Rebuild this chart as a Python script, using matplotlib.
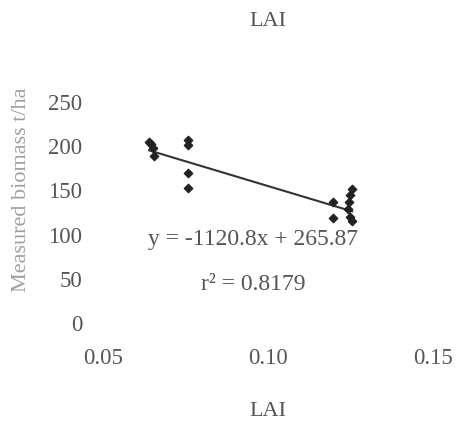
import matplotlib
matplotlib.use("Agg")
import matplotlib.pyplot as plt
import numpy as np

# Data
lai = [0.064, 0.0645, 0.065, 0.0655,
       0.0758, 0.0758, 0.0758, 0.0758,
       0.1197, 0.1197,
       0.1255, 0.125, 0.1245, 0.1243, 0.125, 0.1255]
biomass = [204, 201, 197, 188,
           206, 200, 169, 152,
           136, 118,
           150, 144, 136, 128, 119, 114]
slope = -1120.8
intercept = 265.87
r2 = 0.8179
x_ticks = [0.05, 0.10, 0.15]
x_ticklabels = ["0.05", "0.10", "0.15"]
y_ticks = [0, 50, 100, 150, 200, 250]

plt.rcParams['font.family'] = ['Liberation Serif', 'DejaVu Serif']
txt = '#555555'

fig = plt.figure(figsize=(4.6, 4.31), dpi=100)
ax = fig.add_axes([103/460, 1-323/431, 330/460, 221/431])

ax.scatter(lai, biomass, marker='D', s=18, color='#222222', zorder=3)
xl = np.array([min(lai), max(lai)])
ax.plot(xl, slope*xl + intercept, color='#333333', lw=1.5)

ax.set_xlim(0.05, 0.15)
ax.set_ylim(0, 250)
ax.set_xticks(x_ticks)
ax.set_xticklabels(x_ticklabels)
ax.set_yticks(y_ticks)
for s in ax.spines.values():
    s.set_visible(False)
ax.tick_params(axis='both', length=0, labelsize=16.5, labelcolor=txt)
ax.tick_params(axis='y', pad=15)
ax.tick_params(axis='x', pad=18)

ax.text(0.0955, 95, "y = -1120.8x + 265.87", ha='center', va='center',
        fontsize=17, color=txt)
ax.text(0.0955, 44, "r² = 0.8179", ha='center', va='center',
        fontsize=17, color=txt)

fig.text(268/460, 1-22/431, "LAI", ha='center', va='center', fontsize=16, color=txt)
fig.text(268/460, 1-412/431, "LAI", ha='center', va='center', fontsize=16, color=txt)
fig.text(22/460, 1-190/431, "Measured biomass t/ha", rotation=90, ha='center',
         va='center', fontsize=16, color='#a0a0a0')

fig.savefig("out.png", dpi=100)
